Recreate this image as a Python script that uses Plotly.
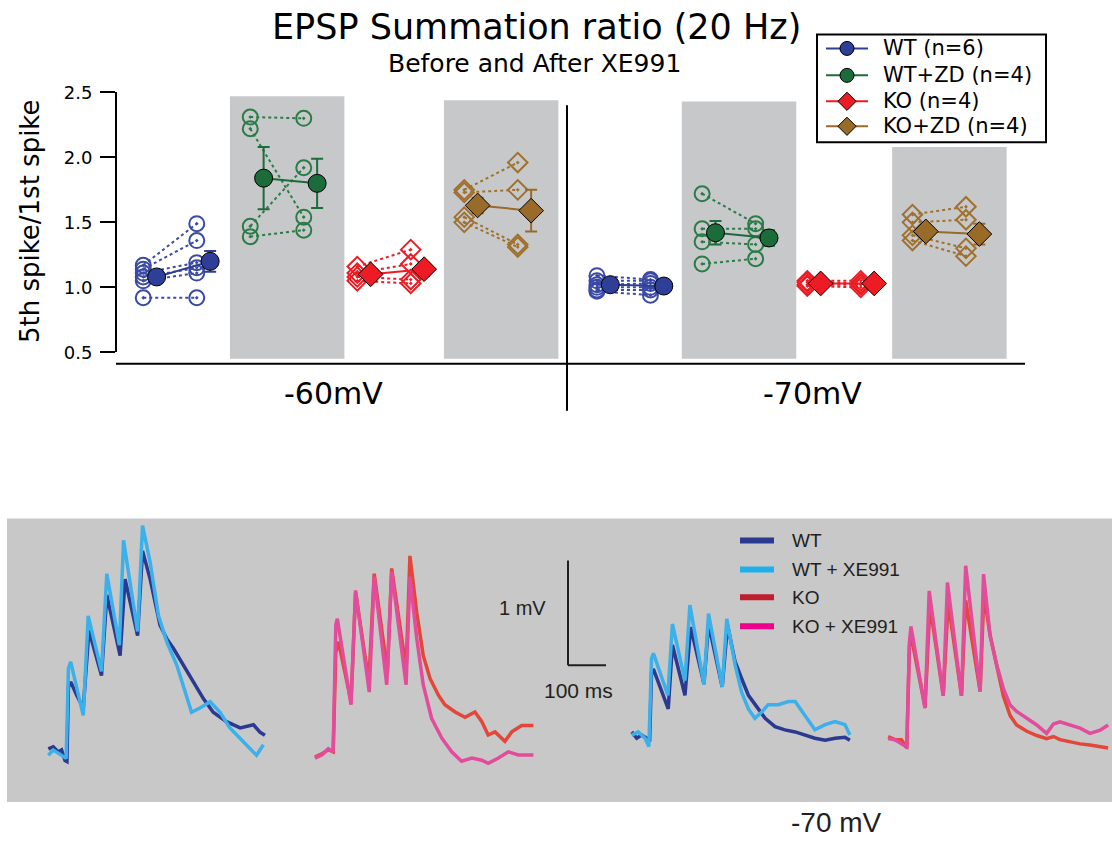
import plotly.graph_objects as go

W, H = 1112, 843

# ------------------------------------------------------------------
# Top panel data: EPSP summation ratio (5th/1st), before & after XE991
# ------------------------------------------------------------------
conditions = ["WT", "WT+ZD", "KO", "KO+ZD"]
legend_names = ["WT (n=6)", "WT+ZD (n=4)", "KO (n=4)", "KO+ZD (n=4)"]
voltages = ["-60mV", "-70mV"]

wt60_before = [1.17, 1.14, 1.11, 1.08, 1.05, 0.92]
wt60_after = [1.49, 1.36, 1.19, 1.15, 1.11, 0.92]
wtzd60_before = [2.31, 2.22, 1.47, 1.39]
wtzd60_after = [2.30, 1.54, 1.92, 1.44]
ko60_before = [1.16, 1.11, 1.08, 1.05]
ko60_after = [1.29, 1.18, 1.06, 1.03]
kozd60_before = [1.75, 1.73, 1.54, 1.50]
kozd60_after = [1.96, 1.75, 1.33, 1.31]

wt70_before = [1.09, 1.05, 1.02, 1.00, 0.98, 0.97]
wt70_after = [1.06, 1.05, 1.03, 1.00, 0.98, 0.94]
wtzd70_before = [1.72, 1.45, 1.35, 1.18]
wtzd70_after = [1.49, 1.45, 1.33, 1.22]
ko70_before = [1.05, 1.04, 1.02, 1.01]
ko70_after = [1.05, 1.03, 1.02, 1.00]
kozd70_before = [1.56, 1.50, 1.40, 1.36]
kozd70_after = [1.62, 1.52, 1.30, 1.24]

mean60_before = [1.08, 1.84, 1.10, 1.63]
mean60_after = [1.20, 1.80, 1.14, 1.59]
sem60_before = [0.03, 0.24, 0.03, 0.06]
sem60_after = [0.08, 0.19, 0.05, 0.16]
mean70_before = [1.02, 1.42, 1.03, 1.43]
mean70_after = [1.01, 1.38, 1.03, 1.41]
sem70_before = [0.02, 0.09, 0.01, 0.04]
sem70_after = [0.02, 0.06, 0.01, 0.08]

y_ticks = [0.5, 1.0, 1.5, 2.0, 2.5]

# ------------------------------------------------------------------
# Bottom panel data: example traces (time in ms from 1st stimulus, mV)
# ------------------------------------------------------------------
wt60_t = [-50, -37, -24, -15, -6, -1, 3, 9, 25, 42, 57, 90, 104, 139, 152, 185, 198, 218, 244, 262, 279, 305, 332, 358, 384, 419, 455, 490, 507, 520]
wt60_v = [0.03, 0.05, 0.00, 0.02, -0.08, -0.09, 0.62, 0.67, 0.54, 0.42, 1.16, 0.73, 1.50, 0.92, 1.65, 1.11, 1.92, 1.65, 1.21, 1.08, 0.99, 0.83, 0.67, 0.51, 0.38, 0.29, 0.23, 0.26, 0.19, 0.16]
wtxe60_t = [-50, -37, -24, -10, -3, 3, 9, 25, 42, 55, 90, 104, 137, 148, 185, 198, 218, 240, 262, 288, 314, 327, 349, 376, 402, 428, 455, 481, 498, 516]
wtxe60_v = [-0.03, 0.02, -0.01, -0.04, -0.06, 0.80, 0.86, 0.61, 0.35, 1.30, 0.77, 1.70, 1.02, 2.02, 1.15, 2.16, 1.81, 1.30, 1.05, 0.83, 0.54, 0.38, 0.42, 0.48, 0.38, 0.23, 0.13, 0.03, -0.03, 0.07]
ko60_t = [-51, -33, -16, -3, 4, 11, 44, 56, 91, 105, 140, 151, 189, 199, 217, 234, 252, 274, 291, 318, 344, 370, 388, 405, 423, 449, 467, 493, 524]
ko60_v = [0.00, 0.03, 0.07, 0.05, 1.00, 1.10, 0.53, 1.57, 0.72, 1.75, 0.81, 1.80, 0.84, 1.92, 1.38, 0.97, 0.75, 0.59, 0.50, 0.43, 0.38, 0.43, 0.34, 0.21, 0.24, 0.15, 0.24, 0.30, 0.30]
koxe60_t = [-51, -33, -16, -3, 4, 8, 44, 56, 92, 105, 138, 151, 189, 199, 217, 234, 256, 283, 309, 335, 362, 388, 405, 432, 458, 484, 524]
koxe60_v = [-0.01, 0.02, 0.08, 0.05, 1.26, 1.32, 0.50, 1.59, 0.62, 1.72, 0.69, 1.77, 0.69, 1.72, 1.13, 0.69, 0.37, 0.18, 0.05, -0.04, -0.01, -0.03, -0.06, -0.01, 0.05, 0.02, 0.02]
wt70_t = [-48, -35, -22, -9, -1, 4, 9, 48, 59, 92, 107, 142, 154, 190, 204, 224, 241, 259, 285, 303, 329, 355, 382, 408, 434, 461, 487, 513, 526]
wt70_v = [0.03, -0.03, 0.00, -0.03, -0.06, 0.60, 0.63, 0.25, 0.86, 0.38, 1.03, 0.49, 1.06, 0.46, 1.05, 0.70, 0.54, 0.38, 0.25, 0.16, 0.08, 0.05, 0.03, 0.00, -0.03, -0.05, -0.03, -0.02, -0.05]
wtxe70_t = [-48, -31, -13, -3, 4, 9, 47, 59, 92, 105, 142, 154, 190, 202, 224, 241, 259, 276, 294, 311, 338, 364, 382, 408, 434, 461, 487, 513, 526]
wtxe70_v = [0.00, 0.03, -0.03, -0.11, 0.73, 0.78, 0.38, 1.06, 0.52, 1.24, 0.48, 1.16, 0.46, 1.11, 0.67, 0.41, 0.25, 0.16, 0.22, 0.29, 0.29, 0.32, 0.32, 0.19, 0.05, 0.10, 0.13, 0.10, 0.00]
ko70_t = [-53, -35, -18, -4, 3, 9, 44, 57, 92, 105, 140, 151, 189, 199, 215, 233, 250, 268, 285, 312, 338, 364, 382, 399, 426, 452, 478, 505, 526]
ko70_v = [0.05, 0.02, 0.02, -0.06, 0.92, 0.98, 0.33, 1.30, 0.44, 1.33, 0.44, 1.35, 0.48, 1.41, 1.02, 0.73, 0.44, 0.25, 0.16, 0.10, 0.06, 0.03, 0.05, 0.02, 0.00, -0.02, -0.03, -0.05, -0.06]
koxe70_t = [-53, -35, -18, -4, 3, 7, 44, 55, 92, 103, 140, 151, 189, 198, 215, 233, 250, 268, 285, 312, 338, 364, 382, 399, 426, 452, 478, 505, 526]
koxe70_v = [0.03, 0.02, -0.02, -0.05, 0.95, 1.10, 0.32, 1.44, 0.44, 1.52, 0.44, 1.68, 0.48, 1.60, 1.02, 0.73, 0.51, 0.35, 0.29, 0.22, 0.16, 0.08, 0.17, 0.19, 0.16, 0.13, 0.08, 0.11, 0.16]

trace_names = ["WT", "WT + XE991", "KO", "KO + XE991"]
scale_mv = 1.0
scale_ms = 100.0

# ------------------------------------------------------------------
# Styling / layout constants
# ------------------------------------------------------------------
FONT = "DejaVu Sans"
FONT2 = "Liberation Sans"
cond_color = ["#2f3e96", "#1c6b3b", "#ed1c24", "#9a6a29"]
open_color = ["#3a4aa6", "#2a7c47", "#ed1c24", "#a0702e"]
open_symbol = ["circle-open-dot", "circle-open-dot", "diamond-open-dot", "diamond-open-dot"]
mean_symbol = ["circle", "circle", "diamond", "diamond"]
open_size = [15, 15, 15, 15]
mean_size = [18, 18, 19, 19]
LEGEND_MARKER_SIZE = 14
trace_color = ["#2b3990", "#3cb0ea", "#e4463a", "#e34b9b"]
swatch_color = ["#2b3990", "#1fb0ea", "#be1e2d", "#ec008c"]
BOX_GRAY = "#c7c8ca"

# top x axis: group units, x=0 -> 170 px, 107 px per unit
X0_PX, UNIT_PX = 170.0, 107.0
x_range = [-X0_PX / UNIT_PX, (W - X0_PX) / UNIT_PX]
volt_offset = [0.0, 4.24]
volt_spacing = [1.0, 0.983]
HALF = 0.25       # before/after offset
MEAN_SHIFT = 0.125

# vertical placement (rendered band compensation)
V_OFF, V_EFF = 9.5, 823.6


def px(x):
    return x / W


def py(y):
    return 1 - (y - V_OFF) / V_EFF


# top y axis pixel placement
Y_LO_PX, Y_HI_PX = 351.5, 91.0
ydom = [py(Y_LO_PX), py(Y_HI_PX)]


def ux_to_paper(u):
    return (u - x_range[0]) / (x_range[1] - x_range[0])


def vy_to_paper(v):
    return ydom[0] + (v - 0.5) / 2.0 * (ydom[1] - ydom[0])


fig = go.Figure()

# bottom panel axes (ms / mV), 38 px per 100 ms, 105 px per mV
B_LEFT, B_RIGHT, B_TOP, B_BOT = 7, W, 518, 802
PX_PER_MS = 0.38
PX_PER_MV = 105.0
t_range = [0, (B_RIGHT - B_LEFT) / PX_PER_MS]
v_range = [0, (B_BOT - B_TOP) / PX_PER_MV]
panel_onset_ms = [(67.3 - B_LEFT) / PX_PER_MS, (334.3 - B_LEFT) / PX_PER_MS,
                  (650.0 - B_LEFT) / PX_PER_MS, (908.3 - B_LEFT) / PX_PER_MS]
panel_base_mv = [(B_BOT - 752) / PX_PER_MV, (B_BOT - 757) / PX_PER_MV,
                 (B_BOT - 735) / PX_PER_MV, (B_BOT - 741.7) / PX_PER_MV]

groups = {
    ("-60mV", 0): (wt60_before, wt60_after),
    ("-60mV", 1): (wtzd60_before, wtzd60_after),
    ("-60mV", 2): (ko60_before, ko60_after),
    ("-60mV", 3): (kozd60_before, kozd60_after),
    ("-70mV", 0): (wt70_before, wt70_after),
    ("-70mV", 1): (wtzd70_before, wtzd70_after),
    ("-70mV", 2): (ko70_before, ko70_after),
    ("-70mV", 3): (kozd70_before, kozd70_after),
}
means = {"-60mV": (mean60_before, mean60_after, sem60_before, sem60_after),
         "-70mV": (mean70_before, mean70_after, sem70_before, sem70_after)}

shapes = []
annotations = []

# gray ZD boxes (behind)
box_tops = {("-60mV", 1): 2.47, ("-60mV", 3): 2.44, ("-70mV", 1): 2.43, ("-70mV", 3): 2.08}
for (vname, ci), top in box_tops.items():
    vi = voltages.index(vname)
    c = volt_offset[vi] + ci * volt_spacing[vi]
    shapes.append(dict(type="rect", xref="paper", yref="paper", layer="below",
                       x0=ux_to_paper(c - 0.44), x1=ux_to_paper(c + 0.63),
                       y0=vy_to_paper(0.45), y1=vy_to_paper(top),
                       fillcolor=BOX_GRAY, line=dict(width=0)))

# individual cells (dotted pairs)
for vi, vname in enumerate(voltages):
    for ci, cname in enumerate(conditions):
        b, a = groups[(vname, ci)]
        c = volt_offset[vi] + ci * volt_spacing[vi]
        xs, ys = [], []
        for bb, aa in zip(b, a):
            xs += [c - HALF, c + HALF, None]
            ys += [bb, aa, None]
        fig.add_trace(go.Scatter(
            x=xs, y=ys, mode="lines+markers", showlegend=False, hoverinfo="skip",
            name=f"{cname} {vname} cells",
            line=dict(color=open_color[ci], width=2, dash="dot"),
            marker=dict(symbol=open_symbol[ci], size=open_size[ci], color=open_color[ci],
                        line=dict(width=2, color=open_color[ci])),
            xaxis="x", yaxis="y"))

# means +/- SEM
for vi, vname in enumerate(voltages):
    mb, ma, sb, sa = means[vname]
    for ci, cname in enumerate(conditions):
        c = volt_offset[vi] + ci * volt_spacing[vi]
        fig.add_trace(go.Scatter(
            x=[c - HALF + MEAN_SHIFT, c + HALF + MEAN_SHIFT], y=[mb[ci], ma[ci]],
            mode="lines+markers", name=legend_names[ci], showlegend=False,
            line=dict(color=cond_color[ci], width=2),
            marker=dict(symbol=mean_symbol[ci], size=mean_size[ci], color=cond_color[ci],
                        line=dict(color="black", width=1)),
            error_y=dict(type="data", array=[sb[ci], sa[ci]], color=cond_color[ci],
                         thickness=2, width=6),
            xaxis="x", yaxis="y"))

# bottom traces
trace_sets = [
    [(wt60_t, wt60_v, 0), (wtxe60_t, wtxe60_v, 1)],
    [(ko60_t, ko60_v, 2), (koxe60_t, koxe60_v, 3)],
    [(wt70_t, wt70_v, 0), (wtxe70_t, wtxe70_v, 1)],
    [(ko70_t, ko70_v, 2), (koxe70_t, koxe70_v, 3)],
]
for pi, pset in enumerate(trace_sets):
    for tt, vv, k in pset:
        fig.add_trace(go.Scatter(
            x=[panel_onset_ms[pi] + t for t in tt],
            y=[panel_base_mv[pi] + v for v in vv],
            mode="lines", name=trace_names[k], showlegend=False, hoverinfo="skip",
            line=dict(color=trace_color[k], width=3.5),
            xaxis="x2", yaxis="y2"))

# bottom gray panel
shapes.append(dict(type="rect", xref="paper", yref="paper", layer="below",
                   x0=px(B_LEFT), x1=px(B_RIGHT), y0=py(B_BOT), y1=py(B_TOP),
                   fillcolor="#c8c8c8", line=dict(width=0)))

# scale bar (1 mV, 100 ms)
sb_t = (568 - B_LEFT) / PX_PER_MS
sb_v = (B_BOT - 665) / PX_PER_MV
shapes.append(dict(type="line", xref="x2", yref="y2", x0=sb_t, x1=sb_t,
                   y0=sb_v, y1=sb_v + scale_mv, line=dict(color="#231f20", width=2)))
shapes.append(dict(type="line", xref="x2", yref="y2", x0=sb_t, x1=sb_t + scale_ms,
                   y0=sb_v, y1=sb_v, line=dict(color="#231f20", width=2)))

# top axis lines (baseline & divider)
shapes.append(dict(type="line", xref="paper", yref="paper", x0=px(116), x1=px(1025),
                   y0=py(363), y1=py(363), line=dict(color="black", width=2)))
shapes.append(dict(type="line", xref="paper", yref="paper", x0=px(567), x1=px(567),
                   y0=py(104), y1=py(410), line=dict(color="black", width=2)))

# ---- top legend (box, line swatches, markers, labels) ----
LEG_L, LEG_R, LEG_T, LEG_B = 817, 1046, 33, 141
leg_rows = [47, 74, 100, 125]
shapes.append(dict(type="rect", xref="paper", yref="paper", layer="below",
                   x0=px(LEG_L), x1=px(LEG_R), y0=py(LEG_B), y1=py(LEG_T),
                   fillcolor="white", line=dict(color="black", width=2)))
for ci, name in enumerate(legend_names):
    shapes.append(dict(type="line", xref="paper", yref="paper", layer="below",
                       x0=px(826), x1=px(868), y0=py(leg_rows[ci]), y1=py(leg_rows[ci]),
                       line=dict(color=cond_color[ci], width=2)))
    annotations.append(dict(text=name, xref="paper", yref="paper", x=px(881), y=py(leg_rows[ci]),
                            xanchor="left", yanchor="middle", showarrow=False,
                            font=dict(family=FONT, size=21, color="black")))
# legend marker glyphs drawn on a full-page pixel-space axis pair
fig.add_trace(go.Scatter(
    x=[847] * len(legend_names), y=leg_rows, mode="markers", showlegend=False,
    hoverinfo="skip", name="legend markers", cliponaxis=False,
    marker=dict(symbol=mean_symbol, size=LEGEND_MARKER_SIZE, color=cond_color, opacity=1,
                line=dict(color="black", width=1)),
    xaxis="x3", yaxis="y3"))

# bottom legend swatches + labels
leg_y = [540, 569, 597, 626]
for k, name in enumerate(trace_names):
    shapes.append(dict(type="line", xref="paper", yref="paper", x0=px(740), x1=px(774),
                       y0=py(leg_y[k]), y1=py(leg_y[k]),
                       line=dict(color=swatch_color[k], width=6)))
    annotations.append(dict(text=name, xref="paper", yref="paper", x=px(790), y=py(leg_y[k]),
                            xanchor="left", yanchor="middle", showarrow=False,
                            font=dict(family=FONT2, size=19, color="#231f20")))

# texts
annotations += [
    dict(text="EPSP Summation ratio (20 Hz)", x=px(536), y=py(26), xref="paper", yref="paper",
         showarrow=False, xanchor="center", yanchor="middle",
         font=dict(family=FONT, size=35, color="black")),
    dict(text="Before and After XE991", x=px(534), y=py(62), xref="paper", yref="paper",
         showarrow=False, xanchor="center", yanchor="middle",
         font=dict(family=FONT, size=25, color="black")),
    dict(text="5th spike/1st spike", x=px(30), y=py(220), xref="paper", yref="paper",
         showarrow=False, textangle=-90, xanchor="center", yanchor="middle",
         font=dict(family=FONT, size=26, color="black")),
    dict(text="-60mV", x=px(333), y=py(393), xref="paper", yref="paper",
         showarrow=False, xanchor="center", yanchor="middle",
         font=dict(family=FONT, size=30, color="black")),
    dict(text="-70mV", x=px(812), y=py(393), xref="paper", yref="paper",
         showarrow=False, xanchor="center", yanchor="middle",
         font=dict(family=FONT, size=30, color="black")),
    dict(text="1 mV", x=px(548), y=py(608), xref="paper", yref="paper",
         showarrow=False, xanchor="right", yanchor="middle",
         font=dict(family=FONT2, size=20, color="#231f20")),
    dict(text="100 ms", x=px(578), y=py(690), xref="paper", yref="paper",
         showarrow=False, xanchor="center", yanchor="middle",
         font=dict(family=FONT2, size=21, color="#231f20")),
    dict(text="-70 mV", x=px(836), y=py(823), xref="paper", yref="paper",
         showarrow=False, xanchor="center", yanchor="middle",
         font=dict(family=FONT2, size=28, color="#231f20")),
]

fig.update_layout(
    width=W, height=H, margin=dict(l=0, r=0, t=0, b=0),
    paper_bgcolor="white", plot_bgcolor="rgba(0,0,0,0)",
    showlegend=False,
    xaxis=dict(domain=[0, 1], range=x_range, visible=False, anchor="y", fixedrange=True),
    yaxis=dict(domain=ydom, range=[0.5, 2.5], anchor="free", position=px(116),
               showline=True, linewidth=2, linecolor="black",
               ticks="outside", ticklen=15, tickwidth=2, tickcolor="black",
               tickvals=y_ticks, ticktext=[f"{t:.1f}" for t in y_ticks],
               ticklabelstandoff=4,
               tickfont=dict(family=FONT, size=18, color="black"),
               showgrid=False, zeroline=False, fixedrange=True),
    xaxis2=dict(domain=[px(B_LEFT), 1], range=t_range, visible=False, anchor="y2"),
    yaxis2=dict(domain=[py(B_BOT), py(B_TOP)], range=v_range, visible=False, anchor="x2"),
    xaxis3=dict(domain=[0, 1], range=[0, W], visible=False, anchor="y3"),
    yaxis3=dict(domain=[0, 1], range=[V_OFF + V_EFF, V_OFF], visible=False, anchor="x3"),
    shapes=shapes,
    annotations=annotations,
)

fig.write_html("out.html")
